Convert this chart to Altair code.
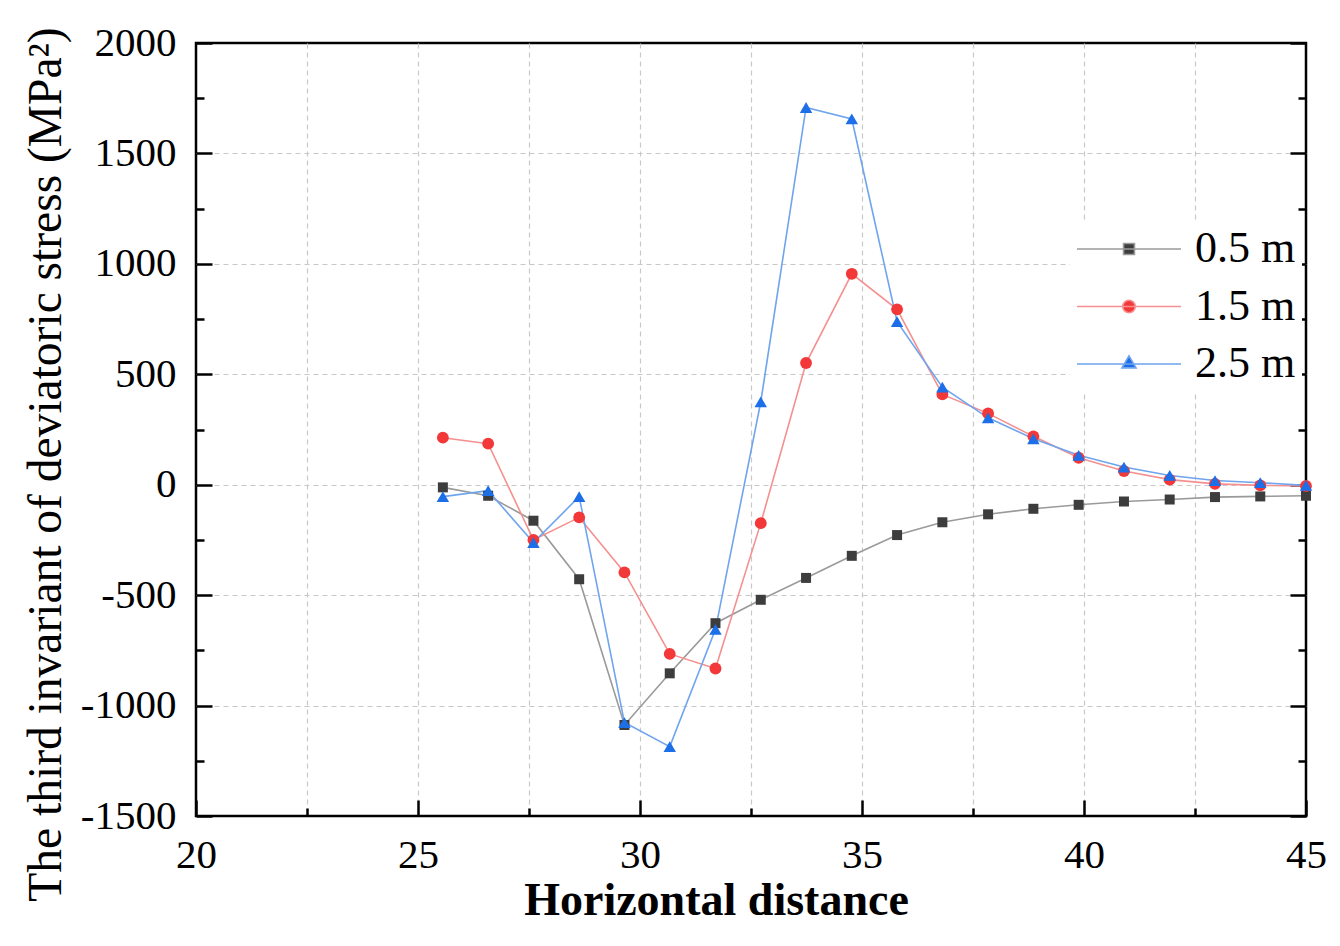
import altair as alt
import pandas as pd

# ---------------- data ----------------
x_vals = [25.56, 26.58, 27.6, 28.63, 29.65, 30.67, 31.7, 32.72, 33.74, 34.77,
          35.79, 36.81, 37.84, 38.86, 39.88, 40.9, 41.93, 42.95, 43.97, 45.0]
s05 = [-12, -50, -163, -428, -1088, -854, -627, -521, -422, -322,
       -228, -170, -134, -109, -91, -76, -67, -56, -53, -50]
s15 = [213, 186, -250, -148, -397, -766, -832, -174, 551, 955,
       794, 409, 323, 219, 122, 62, 23, 4, -3, -6]
s25 = [-54, -27, -262, -54, -1077, -1186, -655, 375, 1708, 1656,
       738, 442, 303, 208, 133, 80, 42, 19, 9, -3]
series_names = ["0.5 m", "1.5 m", "2.5 m"]
x_ticks = [20, 22.5, 25, 27.5, 30, 32.5, 35, 37.5, 40, 42.5, 45]
y_ticks = [-1500, -1250, -1000, -750, -500, -250, 0, 250, 500, 750,
           1000, 1250, 1500, 1750, 2000]

rows = []
for name, vals in zip(series_names, [s05, s15, s25]):
    for xv, yv in zip(x_vals, vals):
        rows.append({"x": xv, "value": yv, "series": name})
df = pd.DataFrame(rows)

# ---------------- style ----------------
FONT = "Liberation Serif"
line_colors = ["#9a9a9a", "#f59090", "#6fa4ee"]
marker_colors = ["#3d3d3d", "#f23838", "#1c6fe6"]
marker_shapes = ["square", "circle", "triangle-up"]
marker_sizes = [100, 140, 155]
legend_paths = [
    "M-1,0L1,0M-0.105,-0.105L0.105,-0.105L0.105,0.105L-0.105,0.105Z",
    "M-1,0L1,0M0.12,0A0.12,0.12,0,1,1,-0.12,0A0.12,0.12,0,1,1,0.12,0Z",
    "M-1,0L1,0M0,-0.155L0.135,0.075L-0.135,0.075Z",
]


def minor_dash(test):
    return {"condition": {"test": test, "value": [8, 8]}, "value": [16, 0]}


def minor_offset(test):
    return {"condition": {"test": test, "value": 8}, "value": 0}


x_test = "datum.value % 5 !== 0"
y_test = "datum.value % 500 !== 0"
x_grid_off = "datum.value === 20 || datum.value === 45"
y_grid_off = "datum.value % 500 !== 0 || datum.value === 2000 || datum.value === -1500"

x_scale = alt.Scale(domain=[20, 45], nice=False, zero=False)
y_scale = alt.Scale(domain=[-1500, 2000], nice=False, zero=False)

x_axis = alt.Axis(
    values=x_ticks,
    title="Horizontal distance",
    titleFont=FONT, titleFontSize=46, titleFontWeight="bold", titleColor="black",
    titleX=520, titleY=114, titleBaseline="alphabetic", titleAlign="center",
    labelExpr="datum.value % 5 === 0 ? '' + datum.value : ''",
    labelFont=FONT, labelFontSize=41, labelColor="black",
    labelBaseline="alphabetic", labelPadding=51,
    labelFlush=False, labelOverlap=False,
    domain=False, ticks=True, tickSize=16, tickWidth=2.5, tickColor="black",
    tickDash=minor_dash(x_test), tickDashOffset=minor_offset(x_test),
    offset=-16,
    grid=True, gridColor="#c8c8c8", gridDash=[5, 4], gridWidth=1.2,
    gridOpacity={"condition": {"test": x_grid_off, "value": 0}, "value": 1},
)

y_axis = alt.Axis(
    values=y_ticks,
    title="The third invariant of deviatoric stress (MPa²)",
    titleFont=FONT, titleFontSize=47.5, titleFontWeight="normal", titleColor="black",
    titleX=-152, titleY=421, titleBaseline="alphabetic", titleAlign="center",
    titleAngle=270,
    labelExpr="datum.value % 500 === 0 ? '' + datum.value : ''",
    labelFont=FONT, labelFontSize=41, labelColor="black",
    labelBaseline="middle", labelPadding=20,
    labelFlush=False, labelOverlap=False,
    domain=False, ticks=True, tickSize=16, tickWidth=2.5, tickColor="black",
    tickDash=minor_dash(y_test), tickDashOffset=minor_offset(y_test),
    offset=-16,
    grid=True, gridColor="#c8c8c8", gridDash=[5, 4], gridWidth=1.2,
    gridOpacity={"condition": {"test": y_grid_off, "value": 0}, "value": 1},
)

y_axis_right = alt.Axis(
    orient="right",
    values=y_ticks,
    title=None,
    labels=False,
    domain=False, ticks=True, tickSize=16, tickWidth=2.5, tickColor="black",
    tickDash=minor_dash(y_test), tickDashOffset=minor_offset(y_test),
    offset=-16,
    grid=False,
)

legend = alt.Legend(
    orient="none", legendX=874, legendY=178,
    title=None, padding=6, fillColor="white",
    labelFont=FONT, labelFontSize=44, labelColor="black", labelLimit=400,
    labelOffset=13, rowPadding=13.5, clipHeight=44,
    symbolSize=10816, symbolStrokeWidth=1.6,
)

X = alt.X("x:Q", scale=x_scale, axis=x_axis)

base = alt.Chart(df)

line_layers = []
for i, name in enumerate(series_names):
    yax = y_axis if i == 0 else None
    line_layers.append(
        base.transform_filter(alt.datum.series == name).mark_line(
            strokeWidth=1.6, color=line_colors[i]
        ).encode(
            x=X,
            y=alt.Y("value:Q", scale=y_scale, axis=yax),
        )
    )

point_layers = []
for i, name in enumerate(series_names):
    yax = y_axis_right if i == len(series_names) - 1 else None
    point_layers.append(
        base.transform_filter(alt.datum.series == name).mark_point(
            shape=marker_shapes[i], filled=True, opacity=1,
            fill=marker_colors[i], size=marker_sizes[i], strokeWidth=0,
        ).encode(
            x=X,
            y=alt.Y("value:Q", scale=y_scale, axis=yax),
        )
    )

legend_layer = base.transform_filter("false").mark_point(
    filled=True, opacity=1, strokeWidth=1.6
).encode(
    shape=alt.Shape("series:N",
                    scale=alt.Scale(domain=series_names, range=legend_paths),
                    legend=legend),
    fill=alt.Fill("series:N",
                  scale=alt.Scale(domain=series_names, range=marker_colors),
                  legend=legend),
    stroke=alt.Stroke("series:N",
                      scale=alt.Scale(domain=series_names, range=line_colors),
                      legend=legend),
)

chart = alt.layer(*line_layers, *point_layers, legend_layer).resolve_axis(
    y="independent"
).properties(
    width=1110, height=773,
    padding={"left": 188, "top": 35, "right": 26, "bottom": 122},
    autosize=alt.AutoSizeParams(type="none"),
    background="white",
).configure_view(
    stroke="black", strokeWidth=2.5
)

chart.save("out.html", embed_options={"renderer": "svg", "actions": False})
